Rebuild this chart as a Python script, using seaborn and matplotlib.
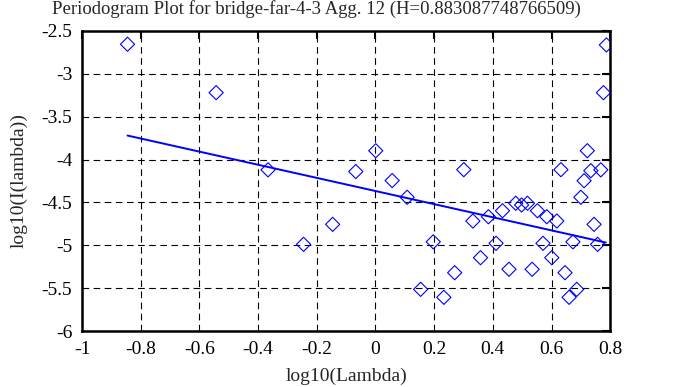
import numpy as np
import pandas as pd
import matplotlib
matplotlib.use("Agg")
import matplotlib.pyplot as plt
import seaborn as sns

# periodogram points (log10 lambda, log10 I(lambda))
log_lambda = [-0.845, -0.543, -0.366, -0.245, -0.146, -0.067, 0.001, 0.057,
              0.108, 0.154, 0.197, 0.233, 0.270, 0.301, 0.332, 0.358, 0.385,
              0.411, 0.433, 0.455, 0.478, 0.498, 0.518, 0.534, 0.552, 0.571,
              0.584, 0.601, 0.618, 0.632, 0.646, 0.660, 0.673, 0.686, 0.700,
              0.711, 0.722, 0.734, 0.745, 0.757, 0.768, 0.777, 0.787]
log_power = [-2.655, -3.220, -4.120, -4.989, -4.756, -4.140, -3.897, -4.245,
             -4.440, -5.514, -4.960, -5.607, -5.320, -4.118, -4.717, -5.145, -4.667,
             -4.977, -4.597, -5.280, -4.510, -4.530, -4.510, -5.280, -4.597, -4.977,
             -4.667, -5.145, -4.717, -4.118, -5.320, -5.607, -4.960, -5.514, -4.440,
             -4.247, -3.897, -4.130, -4.756, -4.989, -4.120, -3.220, -2.663]

# least squares fit line end points
fit_x = [-0.845, 0.785]
fit_y = [-3.720, -4.968]

x_ticks = [-1, -0.8, -0.6, -0.4, -0.2, 0, 0.2, 0.4, 0.6, 0.8]
y_ticks = [-6, -5.5, -5, -4.5, -4, -3.5, -3, -2.5]

TITLE = "Periodogram Plot for bridge-far-4-3 Agg. 12 (H=0.883087748766509)"


def main():
    sns.set_style("white")
    plt.rcParams["font.family"] = ["Liberation Serif", "DejaVu Serif"]
    plt.rcParams["font.size"] = 13.5

    df = pd.DataFrame({"x": log_lambda, "y": log_power})
    fit = pd.DataFrame({"x": fit_x, "y": fit_y})

    fig = plt.figure(figsize=(6.78, 3.87), dpi=100)
    ax = fig.add_axes([0.121, 0.1447, 0.779, 0.7753])

    sns.lineplot(data=fit, x="x", y="y", ax=ax, color="#0000ff", linewidth=1.4,
                 zorder=3)
    sns.scatterplot(data=df, x="x", y="y", ax=ax, marker="D", s=52,
                    facecolors="none", edgecolor="#0000ff", linewidth=0.8,
                    zorder=4)

    ax.set_xlim(-1, 0.8)
    ax.set_ylim(-6, -2.5)
    ax.set_xticks(x_ticks)
    ax.set_yticks(y_ticks)
    ax.set_xticklabels(["%g" % v for v in x_ticks])
    ax.set_yticklabels(["%g" % v for v in y_ticks])

    ax.grid(True, color="black", linestyle=(0, (6, 4)), linewidth=0.8)
    ax.set_axisbelow(True)
    for sp in ax.spines.values():
        sp.set_color("black")
        sp.set_linewidth(1.8)
    ax.tick_params(direction="in", length=6, width=1.5, top=True, right=True,
                   labelsize=14, pad=7, colors="black")

    ax.set_xlabel("log10(Lambda)", fontsize=14, labelpad=7)
    ax.set_ylabel("log10(I(lambda))", fontsize=14, labelpad=10)
    ax.set_title(TITLE, fontsize=13.5, pad=12, x=0.443)

    fig.savefig("out.png", dpi=100)


if __name__ == "__main__":
    main()
